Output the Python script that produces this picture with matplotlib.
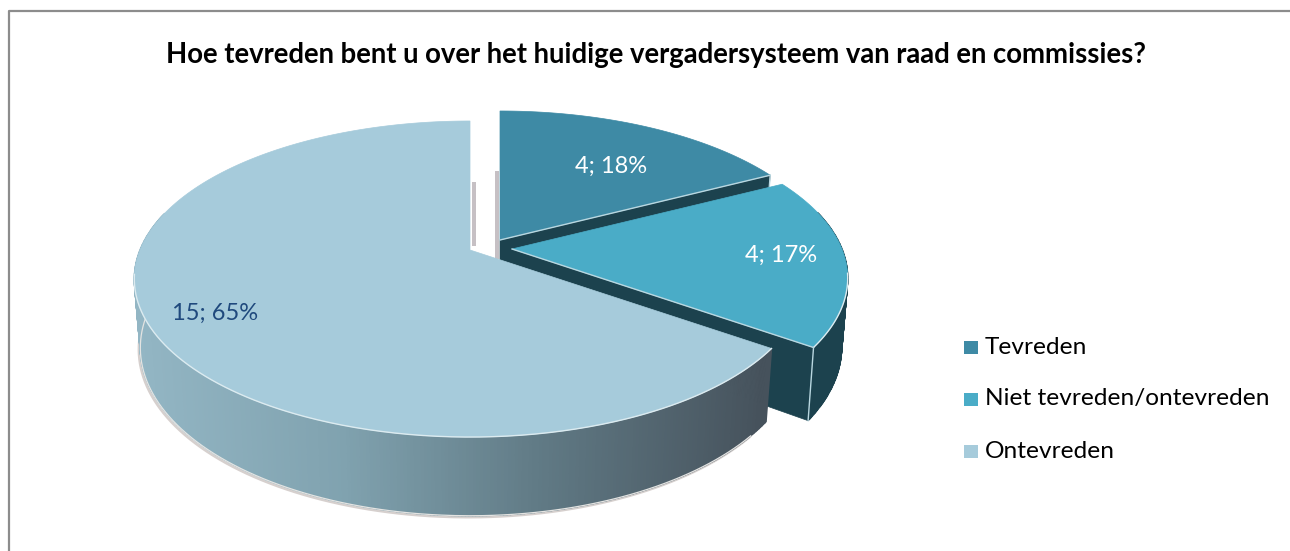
import numpy as np
import matplotlib
matplotlib.use("Agg")
import matplotlib.pyplot as plt
from matplotlib.patches import Polygon, Rectangle
from matplotlib.colors import LinearSegmentedColormap

# ---- data ----
title = "Hoe tevreden bent u over het huidige vergadersysteem van raad en commissies?"
categories = ["Tevreden", "Niet tevreden/ontevreden", "Ontevreden"]
counts = [4, 4, 15]
value_labels = ["4; 18%", "4; 17%", "15; 65%"]

# ---- style / layout ----
top_colors = ["#3e8aa5", "#4aacc7", "#a6cbdb"]
side_colors = ["#1c424e", "#1c424e", None]
label_colors = ["white", "white", "#1f497d"]
apexes = [(500, 240), (512, 249), (470, 250)]
label_pos = [(611, 166), (781, 255), (215, 313)]
legend_y = [347, 399, 451]
R, RK, P, D, Q = 330.0, 152.7, 0.1836, 67.0, 0.982
FONT = "Lato"

side_cmap = LinearSegmentedColormap.from_list(
    "side", [(0, "#93b6c4"), (0.33, "#80a2af"), (0.66, "#5f7883"), (1, "#46525c")])

fig = plt.figure(figsize=(12.9, 5.51), dpi=100)
ax = fig.add_axes([0, 0, 1, 1])
ax.set_xlim(0, 1290)
ax.set_ylim(551, 0)
ax.axis("off")


def project(deg, apex, depth=0.0, radius=1.0):
    t = np.radians(np.asarray(deg, dtype=float))
    u, v = radius * np.sin(t), radius * np.cos(t)
    s = 1.0 / (1.0 + P * v)
    q = 1.0 - (1.0 - Q) * depth
    x = apex[0] + R * u * s * q
    y = apex[1] + (-RK * v * q + D * depth) * s
    return np.column_stack([x, y])


# chart frame
ax.plot([9, 9, 1290], [551, 10.5, 10.5], color="#8c8c8c", lw=1.6, solid_capstyle="butt")

# cumulative clockwise angles from twelve o'clock
edges = np.concatenate([[0], np.cumsum(counts)]) / np.sum(counts) * 360.0

# soft shadow slivers in the gap
ax.add_patch(Rectangle((472, 182), 4, 64, fc="#c6c0c4", ec="none", zorder=1))
ax.add_patch(Rectangle((495, 171), 4, 88, fc="#c6c0c4", ec="none", zorder=1))

for i, apex in enumerate(apexes):
    a0, a1 = edges[i], edges[i + 1]
    arc = np.linspace(a0, a1, int((a1 - a0) * 2) + 2)
    z = 2 + i * 2
    top = project(arc, apex)
    bottom = project(arc, apex, 1.0)
    a_top = project([0], apex, radius=0.0)
    a_bot = project([0], apex, 1.0, radius=0.0)

    # outer wall
    if i == 2:
        shadow = bottom[(arc > 130) & (arc < 285)]
        ax.plot(shadow[:, 0] - 1.5, shadow[:, 1] + 1.5, color="#d6d0ce", lw=1.8, zorder=1)
    for k in range(len(arc) - 1):
        if np.cos(np.radians(arc[k])) > 0.25:
            continue
        mid = 0.5 * (top[k, 0] + top[k + 1, 0])
        c = side_colors[i] if side_colors[i] else side_cmap(np.clip((mid - 133) / (765 - 133), 0, 1))
        ax.add_patch(Polygon([top[k], top[k + 1], bottom[k + 1], bottom[k]],
                             fc=c, ec=c, lw=1.0, zorder=z))
    # end cut face (faces the viewer on the first two slices)
    if i < 2:
        ax.add_patch(Polygon([a_top[0], top[-1], bottom[-1], a_bot[0]],
                             fc=side_colors[i], ec=side_colors[i], lw=0.5, zorder=z))
        ax.plot([top[-1, 0], bottom[-1, 0]], [top[-1, 1], bottom[-1, 1]],
                color="#b9d7e0", lw=1.0, zorder=z + 0.2)
    else:
        low = bottom[(arc > 130) & (arc < 285)]
        ax.plot(low[:, 0], low[:, 1], color="#e4e4e2", lw=0.9, zorder=z + 0.2)
    # top face
    ax.add_patch(Polygon(np.vstack([a_top, top]), fc=top_colors[i], ec=top_colors[i],
                         lw=0.5, zorder=z + 0.5))
    # pale rim on the near edges
    front = np.cos(np.radians(arc)) < -0.15
    ax.plot(top[front, 0], top[front, 1], color="#dcebf0", lw=1.0, zorder=z + 0.6)
    if i < 2:
        ax.plot([a_top[0, 0], top[-1, 0]], [a_top[0, 1], top[-1, 1]],
                color="#b9d7e0", lw=1.0, zorder=z + 0.6)

    ax.text(*label_pos[i], value_labels[i], color=label_colors[i], fontsize=17,
            family=FONT, ha="center", va="center", zorder=20)

# title
ax.text(655.5, 55, title, fontsize=19.8, fontweight="bold", family=FONT,
        ha="center", va="center", color="black", zorder=20)

# legend
for name, col, y in zip(categories, top_colors, legend_y):
    ax.add_patch(Rectangle((964, y - 6.5), 13.5, 13, fc=col, ec="none", zorder=20))
    ax.text(985, y, name, fontsize=17.6, family=FONT, ha="left", va="center",
            color="black", zorder=20)

fig.savefig("out.png", dpi=100, facecolor="white")
